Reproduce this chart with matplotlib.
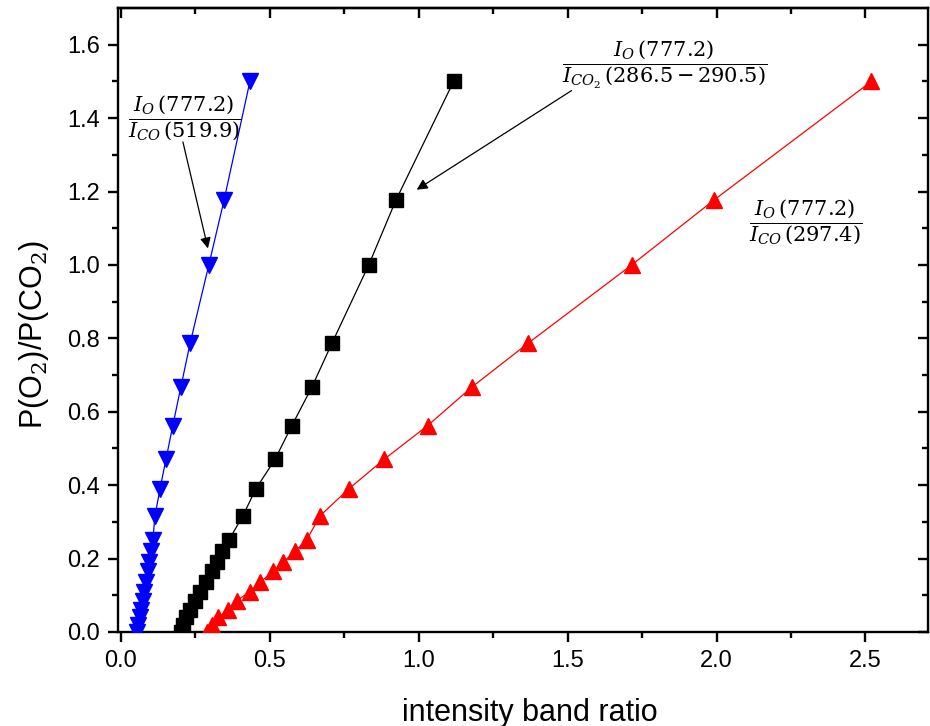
import matplotlib
matplotlib.use("Agg")
import matplotlib.pyplot as plt

# Shared P(O2)/P(CO2) values (y)
y_vals = [0.0, 0.02, 0.04, 0.06, 0.085, 0.11, 0.135, 0.165, 0.19, 0.22, 0.25,
          0.316, 0.39, 0.47, 0.5625, 0.667, 0.786, 1.0, 1.176, 1.5]

# intensity band ratios (x)
x_blue = [0.053, 0.058, 0.063, 0.068, 0.073, 0.078, 0.084, 0.090, 0.095, 0.101, 0.107,
          0.114, 0.131, 0.151, 0.174, 0.201, 0.232, 0.295, 0.346, 0.433]
x_black = [0.201, 0.208, 0.218, 0.232, 0.248, 0.265, 0.285, 0.305, 0.322, 0.339, 0.362,
           0.409, 0.453, 0.517, 0.574, 0.641, 0.708, 0.832, 0.923, 1.117]
x_red = [0.290, 0.304, 0.327, 0.360, 0.388, 0.433, 0.466, 0.511, 0.545, 0.584, 0.623,
         0.668, 0.765, 0.883, 1.030, 1.178, 1.366, 1.715, 1.990, 2.520]

x_ticks = [0.0, 0.5, 1.0, 1.5, 2.0, 2.5]
y_ticks = [0.0, 0.2, 0.4, 0.6, 0.8, 1.0, 1.2, 1.4, 1.6]
x_minor = [0.25, 0.75, 1.25, 1.75, 2.25]
y_minor = [0.1, 0.3, 0.5, 0.7, 0.9, 1.1, 1.3, 1.5]

plt.rcParams['font.family'] = ['Liberation Sans', 'DejaVu Sans']
plt.rcParams['mathtext.fontset'] = 'dejavuserif'

fig = plt.figure(figsize=(9.3, 7.26), dpi=100)
ax = fig.add_axes([118/930, 94/726, (928-118)/930, (632-8)/726])

ax.plot(x_blue, y_vals, color='#0000FF', lw=0.9, marker='v', ms=12, mec='#0000FF', mfc='#0000FF', zorder=3)
ax.plot(x_black, y_vals, color='black', lw=0.9, marker='s', ms=9.5, zorder=3)
ax.plot(x_red, y_vals, color='#FF0000', lw=0.9, marker='^', ms=12, mec='#FF0000', mfc='#FF0000', zorder=3)

ax.set_xlim(-0.01, 2.71)
ax.set_ylim(0, 1.70)
ax.set_xticks(x_ticks)
ax.set_xticklabels([f"{v:.1f}" for v in x_ticks])
ax.set_yticks(y_ticks)
ax.set_yticklabels([f"{v:.1f}" for v in y_ticks])
ax.set_xticks(x_minor, minor=True)
ax.set_yticks(y_minor, minor=True)

for s in ax.spines.values():
    s.set_linewidth(1.7)
ax.tick_params(which='major', direction='out', length=7, width=1.7, labelsize=17, pad=6)
ax.tick_params(which='minor', direction='out', length=4, width=1.7)

secx = ax.secondary_xaxis('top')
secx.set_xticks(x_ticks)
secx.set_xticks(x_minor, minor=True)
secx.tick_params(which='major', direction='in', length=7, width=1.7, labeltop=False)
secx.tick_params(which='minor', direction='in', length=4, width=1.7)
secx.spines['top'].set_linewidth(1.7)
secy = ax.secondary_yaxis('right')
secy.set_yticks(y_ticks)
secy.set_yticks(y_minor, minor=True)
secy.tick_params(which='major', direction='in', length=7, width=1.7, labelright=False)
secy.tick_params(which='minor', direction='in', length=4, width=1.7)

ax.set_xlabel('intensity band ratio', fontsize=22)
ax.set_ylabel('P(O$_2$)/P(CO$_2$)', fontsize=22)
ax.xaxis.set_label_coords(0.509, -0.105)
ax.yaxis.set_label_coords(-0.083, 0.476)

arrow_kw = dict(arrowstyle='-|>', color='black', lw=0.9, shrinkA=0, shrinkB=0, mutation_scale=16)

ax.text(0.215, 1.40, r'$\dfrac{I_O\,(777.2)}{I_{CO}\,(519.9)}$', fontsize=15, ha='center', va='center')
ax.annotate('', xy=(0.292, 1.045), xytext=(0.208, 1.335), arrowprops=arrow_kw)

ax.text(1.826, 1.545, r'$\dfrac{I_O\,(777.2)}{I_{CO_2}\,(286.5-290.5)}$', fontsize=15, ha='center', va='center')
ax.annotate('', xy=(0.993, 1.205), xytext=(1.513, 1.475), arrowprops=arrow_kw)

ax.text(2.299, 1.115, r'$\dfrac{I_O\,(777.2)}{I_{CO}\,(297.4)}$', fontsize=15, ha='center', va='center')

fig.savefig('out.png', dpi=100)
